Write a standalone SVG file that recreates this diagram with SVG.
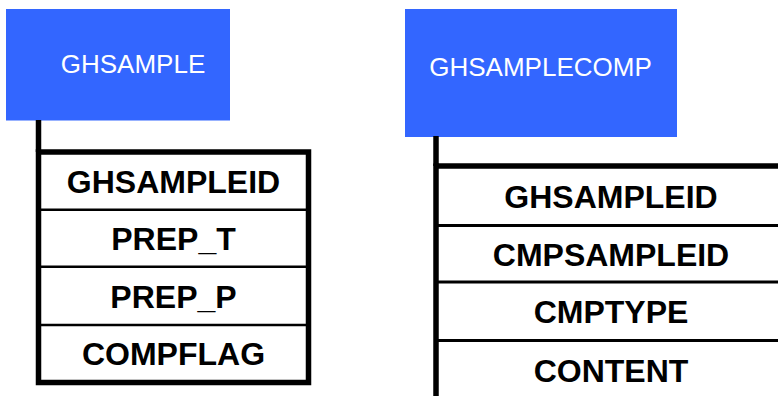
<svg xmlns="http://www.w3.org/2000/svg" width="778" height="396" viewBox="0 0 778 396">
<style>
.box{fill:#3366ff;}
.title{font-family:"Liberation Sans",Arial,sans-serif;font-size:26px;fill:#ffffff;text-anchor:middle;}
.field{font-family:"Liberation Sans",Arial,sans-serif;font-size:32px;font-weight:bold;fill:#000000;text-anchor:middle;}
.border{stroke:#000000;stroke-width:5.5;fill:none;}
.div{stroke:#000000;stroke-width:2.5;fill:none;}
.div2{stroke:#000000;stroke-width:3;fill:none;}
.conn{stroke:#000000;stroke-width:5.5;fill:none;}
</style>
<rect width="778" height="396" fill="#ffffff"/>
<g id="ghsample">
<rect class="box" x="6" y="9" width="224" height="111.5"/>
<text class="title" x="133" y="73">GHSAMPLE</text>
</g>
<g id="ghsamplecomp">
<rect class="box" x="405" y="9" width="272" height="128"/>
<text class="title" x="540.5" y="76">GHSAMPLECOMP</text>
</g>
<g id="connectors">
<line class="conn" x1="38.5" y1="120" x2="38.5" y2="152"/>
<line class="conn" x1="436" y1="136" x2="436" y2="166"/>
</g>
<g id="ghsample-table">
<rect x="38.5" y="152" width="270" height="230.5" fill="#ffffff" class="border"/>
<line class="div" x1="38.5" y1="209.7" x2="308.5" y2="209.7"/>
<line class="div" x1="38.5" y1="266.8" x2="308.5" y2="266.8"/>
<line class="div" x1="38.5" y1="325" x2="308.5" y2="325"/>
<text class="field" x="173.5" y="192.5">GHSAMPLEID</text>
<text class="field" x="173.5" y="250">PREP_T</text>
<text class="field" x="173.5" y="307.5">PREP_P</text>
<text class="field" x="173.5" y="365">COMPFLAG</text>
</g>
<g id="ghsamplecomp-table">
<line class="border" x1="436" y1="166" x2="790" y2="166"/>
<line class="border" x1="436" y1="163.5" x2="436" y2="400"/>
<line class="div2" x1="436" y1="225.5" x2="790" y2="225.5"/>
<line class="div2" x1="436" y1="282" x2="790" y2="282"/>
<line class="div2" x1="436" y1="340.5" x2="790" y2="340.5"/>
<text class="field" x="611" y="207.5">GHSAMPLEID</text>
<text class="field" x="611" y="265.5">CMPSAMPLEID</text>
<text class="field" x="611" y="323">CMPTYPE</text>
<text class="field" x="611" y="381.5">CONTENT</text>
</g>
</svg>
